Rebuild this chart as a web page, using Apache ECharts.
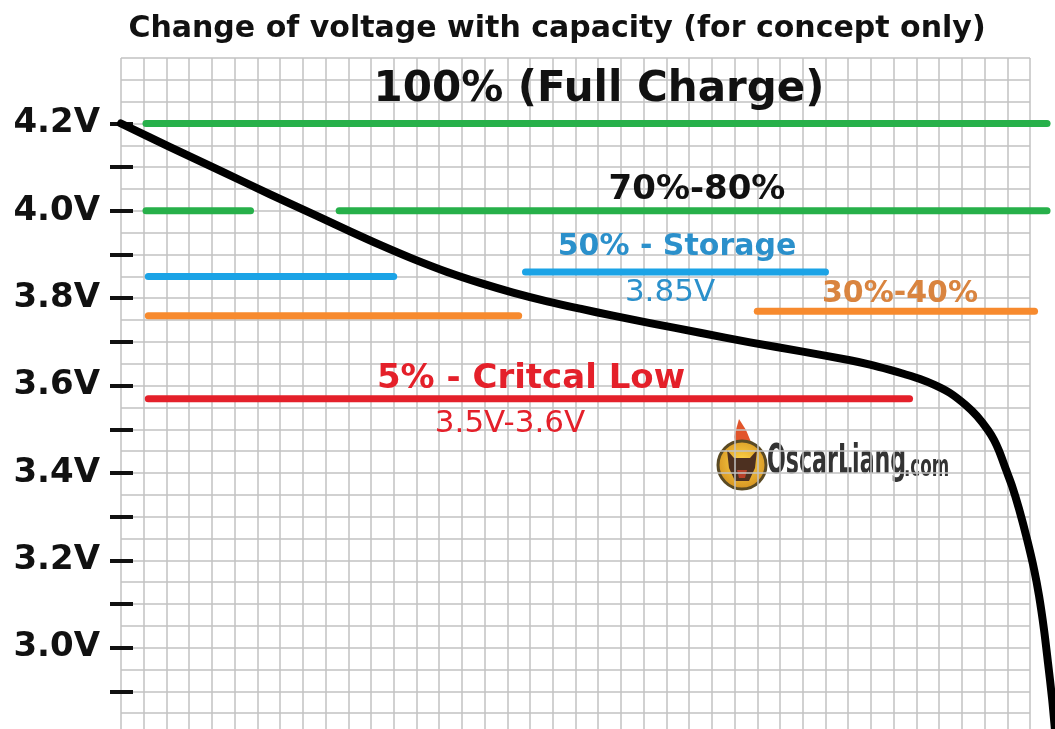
<!DOCTYPE html>
<html>
<head>
<meta charset="utf-8">
<title>Change of voltage with capacity</title>
<script src="https://cdn.jsdelivr.net/npm/echarts@6.0.0/dist/echarts.min.js"></script>
<style>
  html, body { margin: 0; padding: 0; background: #fff; }
  #main { width: 1055px; height: 729px; }
</style>
</head>
<body>
<div id="main"></div>
<script>
// discharge curve: x = grid column (capacity used), y = volts
const curveX = [0, 2.16, 4.36, 6.56, 8.76, 10.08, 11.4, 12.85, 14.35, 15.8, 17.25, 18.75, 20.2,
  21.65, 23.28, 25.48, 27.68, 29.88, 32.08, 32.96, 33.84, 34.5, 35.16, 35.82, 36.48, 37.18,
  37.67, 38.15, 38.42, 38.64, 38.94, 39.21, 39.52, 39.87, 40.18, 40.4, 40.62, 40.79, 40.97, 41.1];
const curveV = [4.2, 4.146, 4.092, 4.038, 3.985, 3.953, 3.922, 3.89, 3.86, 3.835, 3.813, 3.793, 3.776,
  3.76, 3.743, 3.721, 3.699, 3.679, 3.658, 3.648, 3.636, 3.626, 3.615, 3.601, 3.583, 3.555,
  3.53, 3.498, 3.475, 3.45, 3.408, 3.37, 3.317, 3.248, 3.179, 3.118, 3.04, 2.966, 2.884, 2.811];

// charge level bars
const levelGroup = ["full", "70-80", "70-80", "storage", "storage", "30-40", "30-40", "low"];
const levelStart = [1.1, 1.1, 9.6, 1.2, 17.8, 1.2, 28.0, 1.2];
const levelEnd = [40.75, 5.7, 40.75, 12.0, 31.0, 17.5, 40.2, 34.7];
const levelVolt = [4.2, 4.0, 4.0, 3.85, 3.86, 3.76, 3.77, 3.57];

// y axis ticks / labels
const tickVolts = [2.9, 3.0, 3.1, 3.2, 3.3, 3.4, 3.5, 3.6, 3.7, 3.8, 3.9, 4.0, 4.1, 4.2];
const labelVolts = [3.0, 3.2, 3.4, 3.6, 3.8, 4.0, 4.2];

const groupColor = {
  full: "#27b04a",
  "70-80": "#27b04a",
  storage: "#1ba3e6",
  "30-40": "#f78a2e",
  low: "#e4202a",
};
const gridColor = "#c2c2c2";
const font = '"DejaVu Sans", "Liberation Sans", sans-serif';

let chartDom = document.getElementById("main");
let myChart = echarts.init(chartDom);

// grid 1 spans to the right edge so marks can run past the paper grid
let levelSeries = levelGroup.map((g, i) => ({
  name: g,
  type: "line",
  xAxisIndex: 1,
  yAxisIndex: 2,
  data: [[levelStart[i], levelVolt[i]], [levelEnd[i], levelVolt[i]]],
  symbol: "none",
  clip: false,
  silent: true,
  lineStyle: { color: groupColor[g], width: 7, cap: "round" },
  z: 3,
}));

function txt(text, x, y, size, color, weight) {
  return {
    type: "text",
    x: x,
    y: y,
    z: 50,
    style: {
      text: text,
      font: (weight || "bold") + " " + size + "px " + font,
      fill: color,
      align: "center",
      verticalAlign: "middle",
    },
  };
}

const hidden = {
  axisLine: { show: false },
  axisTick: { show: false },
  axisLabel: { show: false },
  splitLine: { show: false },
};

let option = {
  animation: false,
  backgroundColor: "#fff",
  grid: [
    { left: 121, right: 25, top: 58, bottom: -6, outerBoundsMode: "none" },
    { left: 121, right: 0, top: 58, bottom: -6, outerBoundsMode: "none" },
  ],
  xAxis: [
    {
      type: "value",
      gridIndex: 0,
      min: 0,
      max: 40,
      interval: 1,
      axisLine: { show: false },
      axisTick: { show: false },
      axisLabel: { show: false },
      splitLine: { show: true, lineStyle: { color: gridColor, width: 1.5 } },
    },
    Object.assign({ type: "value", gridIndex: 1, min: 0, max: 41.1 }, hidden),
  ],
  yAxis: [
    {
      type: "value",
      gridIndex: 0,
      min: 2.8,
      max: 4.35,
      interval: 0.05,
      axisLine: { show: false },
      axisTick: { show: false },
      axisLabel: { show: false },
      splitLine: { show: true, lineStyle: { color: gridColor, width: 1.5 } },
    },
    {
      type: "value",
      gridIndex: 0,
      min: 2.8,
      max: 4.35,
      position: "left",
      offset: 11,
      axisLine: { show: false },
      splitLine: { show: false },
      axisTick: {
        show: true,
        inside: true,
        length: 23,
        customValues: tickVolts,
        lineStyle: { color: "#111", width: 4 },
      },
      axisLabel: {
        show: true,
        customValues: labelVolts,
        margin: 10,
        formatter: (v) => v.toFixed(1) + "V",
        color: "#111",
        fontSize: 34,
        fontWeight: "bold",
        fontFamily: font,
      },
    },
    Object.assign({ type: "value", gridIndex: 1, min: 2.8, max: 4.35 }, hidden),
  ],
  series: levelSeries.concat([
    {
      name: "voltage",
      type: "line",
      xAxisIndex: 1,
      yAxisIndex: 2,
      data: curveX.map((x, i) => [x, curveV[i]]),
      smooth: 0.3,
      symbol: "none",
      clip: false,
      silent: true,
      lineStyle: { color: "#000", width: 8, cap: "round", join: "round" },
      z: 5,
    },
  ]),
  graphic: [
    txt("Change of voltage with capacity (for concept only)", 557, 29, 30, "#111"),
    txt("100% (Full Charge)", 599, 90, 42, "#111"),
    txt("70%-80%", 697, 190, 34, "#111"),
    txt("50% - Storage", 677, 247, 30, "#2b90cb"),
    txt("3.85V", 670, 293, 31, "#2b90cb", "normal"),
    txt("30%-40%", 900, 294, 30, "#d9843f"),
    txt("5% - Critcal Low", 531, 379, 34, "#e4202a"),
    txt("3.5V-3.6V", 510, 424, 31, "#e4202a", "normal"),
    // logo
    {
      type: "group",
      z: 40,
      children: [
        { type: "rect", shape: { x: 714, y: 419, width: 240, height: 75 }, style: { fill: "#fff" } },
        {
          type: "polygon",
          shape: { points: [[739, 419], [746, 430], [751, 442], [746, 448], [737, 447], [734, 437]] },
          style: { fill: "#e2552b" },
        },
        {
          type: "circle",
          shape: { cx: 742, cy: 465, r: 24 },
          style: {
            fill: {
              type: "radial", x: 0.5, y: 0.45, r: 0.6,
              colorStops: [{ offset: 0, color: "#ffd84a" }, { offset: 1, color: "#d08a1c" }],
            },
            stroke: "#5a4a24",
            lineWidth: 3,
          },
        },
        {
          type: "polygon",
          shape: { points: [[727, 450], [734, 458], [750, 458], [757, 450], [755, 468], [749, 481], [735, 481], [729, 468]] },
          style: { fill: "#4d3020" },
        },
        {
          type: "polygon",
          shape: { points: [[737, 470], [747, 470], [745, 478], [739, 478]] },
          style: { fill: "#b8402a" },
        },
        {
          type: "text",
          x: 767,
          y: 462,
          scaleX: 0.6,
          style: {
            text: "OscarLiang",
            font: 'bold 41px "DejaVu Sans Condensed", "DejaVu Sans", sans-serif',
            fill: "#333",
            align: "left",
            verticalAlign: "middle",
          },
        },
        {
          type: "text",
          x: 904,
          y: 468,
          scaleX: 0.62,
          style: {
            text: ".com",
            font: 'bold 30px "DejaVu Sans Condensed", "DejaVu Sans", sans-serif',
            fill: "#333",
            align: "left",
            verticalAlign: "middle",
          },
        },
      ],
    },
  ],
};

option && myChart.setOption(option);
</script>
</body>
</html>
